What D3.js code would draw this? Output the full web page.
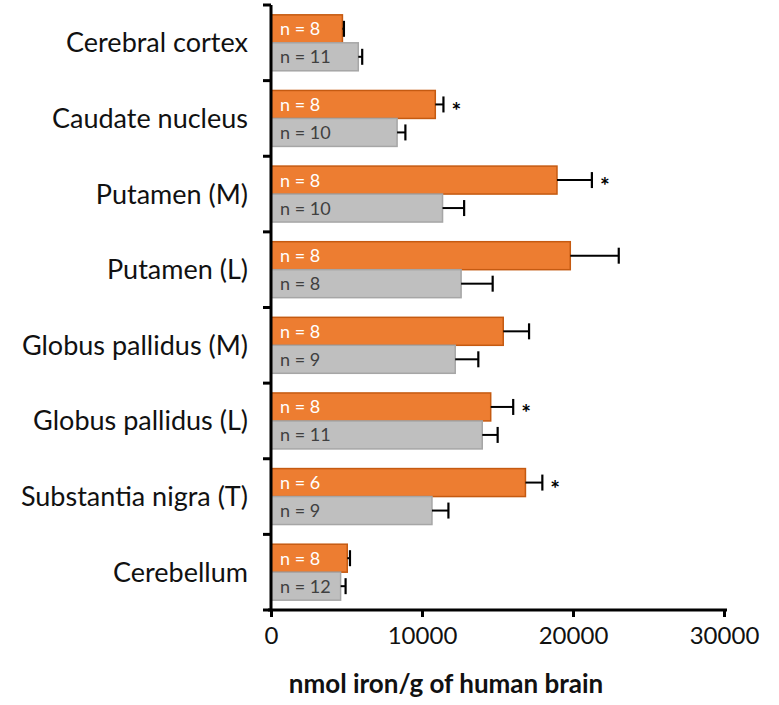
<!DOCTYPE html>
<html>
<head>
<meta charset="utf-8">
<script src="https://cdn.jsdelivr.net/npm/d3@7"></script>
<style>
  body { margin: 0; background: #fff; }
  text { font-family: Lato, "Open Sans", sans-serif; }
</style>
</head>
<body>
<script>
var regions = ["Cerebral cortex", "Caudate nucleus", "Putamen (M)", "Putamen (L)",
               "Globus pallidus (M)", "Globus pallidus (L)", "Substantia nigra (T)", "Cerebellum"];

// orange series
var orangeMean = [4730, 10880, 18940, 19820, 15380, 14550, 16850, 5050];
var orangeErr  = [100, 540, 2310, 3210, 1710, 1490, 1120, 180];
var orangeN    = [8, 8, 8, 8, 8, 8, 6, 8];
var starred    = [false, true, true, false, false, true, true, false];

// grey series
var greyMean = [5780, 8350, 11360, 12590, 12200, 13990, 10660, 4610];
var greyErr  = [260, 550, 1430, 2090, 1530, 1020, 1090, 330];
var greyN    = [11, 10, 10, 8, 9, 11, 9, 12];

var xTicks = [0, 10000, 20000, 30000];

var margin = {top: 5, left: 271, right: 55, bottom: 95},
    width = 779 - margin.left - margin.right,
    height = 705 - margin.top - margin.bottom;

var svg = d3.select("body").append("svg")
    .attr("width", 779)
    .attr("height", 705)
  .append("g")
    .attr("transform", "translate(" + margin.left + "," + margin.top + ")");

var x = d3.scaleLinear().domain([0, 30000]).range([0, width]);

var y = d3.scaleBand()
    .domain(regions)
    .range([0, height])
    .paddingInner(0.26)
    .paddingOuter(0.13);

var sub = d3.scaleBand()
    .domain(["orange", "grey"])
    .range([0, y.bandwidth()]);

var rows = regions.map(function(r, i) {
  return [
    {region: r, key: "orange", v: orangeMean[i], e: orangeErr[i], n: orangeN[i], star: starred[i]},
    {region: r, key: "grey", v: greyMean[i], e: greyErr[i], n: greyN[i], star: false}
  ];
});
var bars = d3.merge(rows);

var fill = {orange: "#ED7D31", grey: "#BFBFBF"},
    edge = {orange: "#C55A11", grey: "#A6A6A6"},
    txt  = {orange: "#ffffff", grey: "#404040"};

var g = svg.selectAll(".bar")
    .data(bars)
    .enter().append("g")
    .attr("class", "bar")
    .attr("transform", function(d) { return "translate(0," + (y(d.region) + sub(d.key)) + ")"; });

g.append("rect")
    .attr("x", 0)
    .attr("y", 0)
    .attr("width", function(d) { return x(d.v); })
    .attr("height", sub.bandwidth())
    .attr("fill", function(d) { return fill[d.key]; })
    .attr("stroke", function(d) { return edge[d.key]; })
    .attr("stroke-width", 1.5);

// error bars
var hb = sub.bandwidth() / 2;
g.append("line")
    .attr("x1", function(d) { return x(d.v); })
    .attr("x2", function(d) { return x(d.v + d.e); })
    .attr("y1", hb).attr("y2", hb)
    .attr("stroke", "#000").attr("stroke-width", 2);
g.append("line")
    .attr("x1", function(d) { return x(d.v + d.e); })
    .attr("x2", function(d) { return x(d.v + d.e); })
    .attr("y1", hb - 8).attr("y2", hb + 8)
    .attr("stroke", "#000").attr("stroke-width", 2.2);

g.append("text")
    .attr("x", 9)
    .attr("y", hb)
    .attr("dy", "0.36em")
    .style("font-size", "18px")
    .attr("fill", function(d) { return txt[d.key]; })
    .text(function(d) { return "n = " + d.n; });

g.filter(function(d) { return d.star; })
  .append("text")
    .attr("x", function(d) { return x(d.v + d.e) + 8; })
    .attr("y", hb)
    .attr("dy", "0.62em")
    .style("font-size", "23px")
    .style("font-weight", "bold")
    .text("*");

// y axis
var yAxis = svg.append("g");
yAxis.append("line")
    .attr("x1", 0).attr("x2", 0)
    .attr("y1", 0).attr("y2", height)
    .attr("stroke", "#000").attr("stroke-width", 3);
yAxis.selectAll(".ytick")
    .data(d3.range(regions.length + 1))
    .enter().append("line")
    .attr("x1", -8).attr("x2", 0)
    .attr("y1", function(i) { return i * y.step(); })
    .attr("y2", function(i) { return i * y.step(); })
    .attr("stroke", "#000").attr("stroke-width", 3);
yAxis.selectAll(".ylab")
    .data(regions)
    .enter().append("text")
    .attr("x", -23)
    .attr("y", function(d) { return y(d) + y.bandwidth() / 2; })
    .attr("dy", "0.35em")
    .attr("text-anchor", "end")
    .style("font-size", "27px")
    .attr("fill", "#111")
    .text(function(d) { return d; });

// x axis
var xAxis = svg.append("g")
    .attr("transform", "translate(0," + height + ")")
    .call(d3.axisBottom(x).tickValues(xTicks).tickSize(7).tickSizeOuter(0).tickPadding(10).tickFormat(d3.format("d")));
xAxis.select(".domain").attr("stroke-width", 3).attr("d", "M-3,0H" + (width + 3));
xAxis.selectAll(".tick line").attr("stroke-width", 3);
xAxis.selectAll(".tick text")
    .style("font-size", "24px")
    .style("font-family", "Lato, 'Open Sans', sans-serif")
    .attr("fill", "#111");

svg.append("text")
    .attr("x", 175)
    .attr("y", height + 83)
    .attr("text-anchor", "middle")
    .style("font-size", "26px")
    .style("font-weight", "bold")
    .attr("fill", "#111")
    .text("nmol iron/g of human brain");
</script>
</body>
</html>
